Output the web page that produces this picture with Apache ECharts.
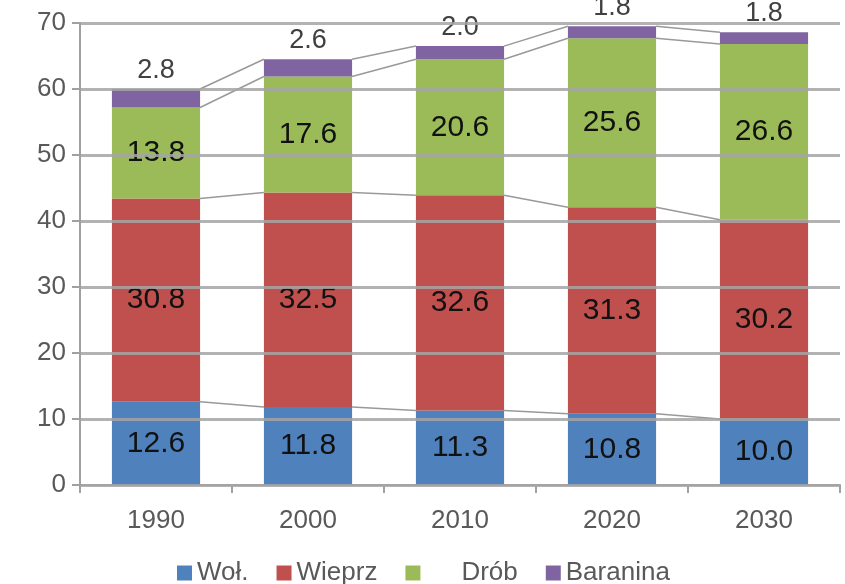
<!DOCTYPE html>
<html>
<head>
<meta charset="utf-8">
<script src="https://cdn.jsdelivr.net/npm/echarts@6/dist/echarts.min.js"></script>
<style>
  html, body { margin: 0; padding: 0; background: #ffffff; }
  #chart { width: 845px; height: 584px; }
</style>
</head>
<body>
<div id="chart"></div>
<script>
// Meat consumption structure by year (stacked)
const years = ['1990', '2000', '2010', '2020', '2030'];
const wol = [12.6, 11.8, 11.3, 10.8, 10.0];
const wieprz = [30.8, 32.5, 32.6, 31.3, 30.2];
const drob = [13.8, 17.6, 20.6, 25.6, 26.6];
const baranina = [2.8, 2.6, 2.0, 1.8, 1.8];
const seriesNames = ['Woł.', 'Wieprz', 'Drób', 'Baranina'];
const yTicks = [0, 10, 20, 30, 40, 50, 60, 70];

const colors = ['#4f81bd', '#c0504d', '#9bbb59', '#8064a2'];
const stacks = [wol, wieprz, drob, baranina];
const BAR_RATIO = 0.58;

// cumulative tops of each stacked layer, per year
const cumulative = stacks.map((_, k) =>
  years.map((_, i) => stacks.slice(0, k + 1).reduce((s, arr) => s + arr[i], 0))
);

const chart = echarts.init(document.getElementById('chart'));

const labelFont = { fontFamily: 'Liberation Sans, Arial, sans-serif' };

const barSeries = stacks.map((arr, k) => ({
  name: seriesNames[k],
  type: 'bar',
  stack: 'total',
  barWidth: (BAR_RATIO * 100) + '%',
  data: arr,
  itemStyle: { color: colors[k] },
  z: 2,
  label: k < 3 ? {
    show: true,
    position: 'inside',
    color: '#111111',
    fontSize: 30,
    ...labelFont,
    formatter: p => p.value.toFixed(1)
  } : {
    show: true,
    position: 'top',
    distance: 5,
    color: '#404040',
    fontSize: 27,
    ...labelFont,
    formatter: p => p.value.toFixed(1)
  }
}));

// connector lines between the tops of matching layers in neighbouring bars
const connectorSeries = {
  type: 'custom',
  silent: true,
  z: 1,
  data: years.slice(0, -1).map((_, i) => [i]),
  encode: { x: 0 },
  renderItem: function (params, api) {
    const i = api.value(0);
    const half = api.size([1, 0])[0] * BAR_RATIO / 2;
    const children = cumulative.map(layer => {
      const a = api.coord([i, layer[i]]);
      const b = api.coord([i + 1, layer[i + 1]]);
      return {
        type: 'line',
        shape: { x1: a[0] + half, y1: a[1], x2: b[0] - half, y2: b[1] },
        style: { stroke: '#999999', lineWidth: 1.5 }
      };
    });
    return { type: 'group', children: children };
  }
};

chart.setOption({
  animation: false,
  grid: { left: 80, right: 5, top: 23, bottom: 99 },
  xAxis: {
    type: 'category',
    data: years,
    axisLine: { show: true, lineStyle: { color: '#a0a0a0', width: 2 } },
    axisTick: { show: true, alignWithLabel: false, length: 8, lineStyle: { color: '#a0a0a0', width: 2 } },
    axisLabel: { color: '#595959', fontSize: 26, margin: 23, ...labelFont },
    splitLine: { show: false }
  },
  yAxis: {
    type: 'value',
    min: yTicks[0],
    max: yTicks[yTicks.length - 1],
    interval: 10,
    z: 3,
    axisLine: { show: true, lineStyle: { color: '#a0a0a0', width: 2 } },
    axisTick: { show: true, length: 8, lineStyle: { color: '#a0a0a0', width: 2 } },
    axisLabel: { color: '#595959', fontSize: 26, margin: 14, ...labelFont },
    splitLine: { show: true, lineStyle: { color: 'rgba(165,165,165,0.85)', width: 3 } }
  },
  legend: {
    left: 172,
    top: 555,
    icon: 'rect',
    itemWidth: 15,
    itemHeight: 15,
    itemGap: 28,
    textStyle: { color: '#595959', fontSize: 26, ...labelFont },
    data: seriesNames.map(n => n === 'Drób'
      ? { name: n, textStyle: { padding: [0, 0, 0, 36] } }
      : { name: n })
  },
  series: [connectorSeries, ...barSeries]
});
</script>
</body>
</html>
